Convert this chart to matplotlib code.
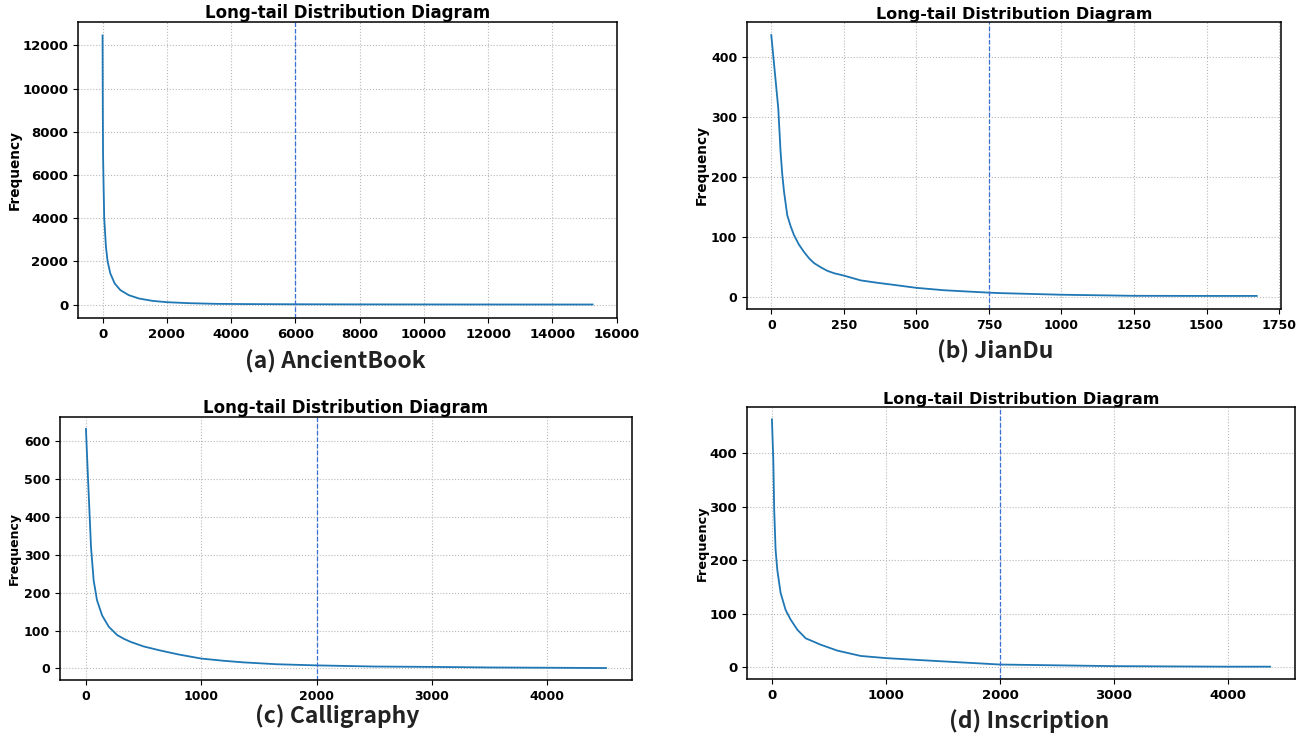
import matplotlib
matplotlib.use("Agg")
import matplotlib.pyplot as plt

# rank / frequency points
ancient_rank = [0, 8, 15, 31, 52, 105, 157, 241, 377, 555, 817, 1131, 1550,
                2000, 2700, 3540, 4500, 6000, 8000, 10000, 12000, 14000, 15250]
ancient_freq = [12465, 9000, 7000, 5600, 4000, 2682, 2000, 1442, 977, 667, 434, 279, 170,
                108, 62, 31, 20, 12, 6, 4, 2, 1, 1]

jiandu_rank = [0, 24, 32, 38, 44, 55, 67, 78, 95, 112, 130, 147, 170, 193, 216, 250,
               279, 308, 365, 422, 500, 595, 675, 750, 789, 1000, 1250, 1500, 1673]
jiandu_freq = [437, 315, 242, 203, 175, 136, 117, 103, 87, 75, 64, 56, 49, 43, 39, 35,
               31, 27, 23, 19.5, 14.5, 10.5, 8.4, 6.5, 5.7, 3, 1.2, 1, 1]

callig_rank = [0, 17, 29, 44, 67, 96, 140, 198, 271, 330, 388, 500, 635, 800, 1000,
               1200, 1364, 1656, 2000, 2500, 3000, 3500, 4000, 4510]
callig_freq = [632, 508, 425, 320, 232, 180, 140, 110, 88, 78, 70, 58, 48, 37, 26,
               20, 16, 11, 8, 5, 4, 2.5, 1.8, 1]

inscr_rank = [0, 12, 20, 32, 47, 76, 120, 164, 223, 296, 428, 574, 780, 1000, 1365, 1660,
              2000, 2500, 3000, 3500, 4000, 4370]
inscr_freq = [463, 388, 294, 220, 182, 139, 107, 89, 70, 54, 42, 31, 21, 17, 12.5, 9,
              5, 3.5, 2, 1.5, 1, 1]

cutoffs = [6000, 750, 2000, 2000]
captions = ['(a) AncientBook', '(b) JianDu', '(c) Calligraphy', '(d) Inscription']

fig = plt.figure(figsize=(13.03, 7.36), dpi=100)

# axes boxes [left, bottom, width, height] in figure fraction
boxes = [[0.0599, 0.568, 0.4137, 0.4021],
         [0.5733, 0.5802, 0.4098, 0.3899],
         [0.046, 0.0761, 0.439, 0.3573],
         [0.5733, 0.0774, 0.4206, 0.3696]]
title_size = [12, 11.5, 12, 11.5]
tick_size = [9.5, 9, 9, 9.5]
ylab_size = [9.8, 9.8, 9, 9.3]
ylab_x = [-0.105, -0.0712, -0.0682, -0.0694]
# caption centres in pixels
cap_pos = [(335, 362), (995, 352), (337, 716), (1029, 721)]

data = [(ancient_rank, ancient_freq), (jiandu_rank, jiandu_freq),
        (callig_rank, callig_freq), (inscr_rank, inscr_freq)]

for i in range(4):
    ax = fig.add_axes(boxes[i])
    x, y = data[i]
    ax.plot(x, y, color='#1f77b4', lw=1.3)
    ax.axvline(cutoffs[i], color='#3a6fd8', ls='--', lw=0.9)
    ax.grid(True, ls=':', color='0.72', lw=0.8)
    ax.set_axisbelow(True)
    ax.set_title('Long-tail Distribution Diagram', fontsize=title_size[i],
                 fontweight='bold', pad=2)
    ax.set_ylabel('Frequency', fontsize=ylab_size[i], fontweight='bold')
    ax.yaxis.set_label_coords(ylab_x[i], 0.5)
    for lab in ax.get_xticklabels() + ax.get_yticklabels():
        lab.set_fontweight('bold')
        lab.set_fontsize(tick_size[i])
    for s in ax.spines.values():
        s.set_linewidth(1.1)
    cx, cy = cap_pos[i]
    fig.text(cx / 1303, 1 - cy / 736, captions[i], ha='center', va='center',
             fontsize=16.5, family=['Noto Sans CJK SC', 'DejaVu Sans'], fontweight='bold',
             color='#222222')

fig.savefig('out.png', dpi=100)
